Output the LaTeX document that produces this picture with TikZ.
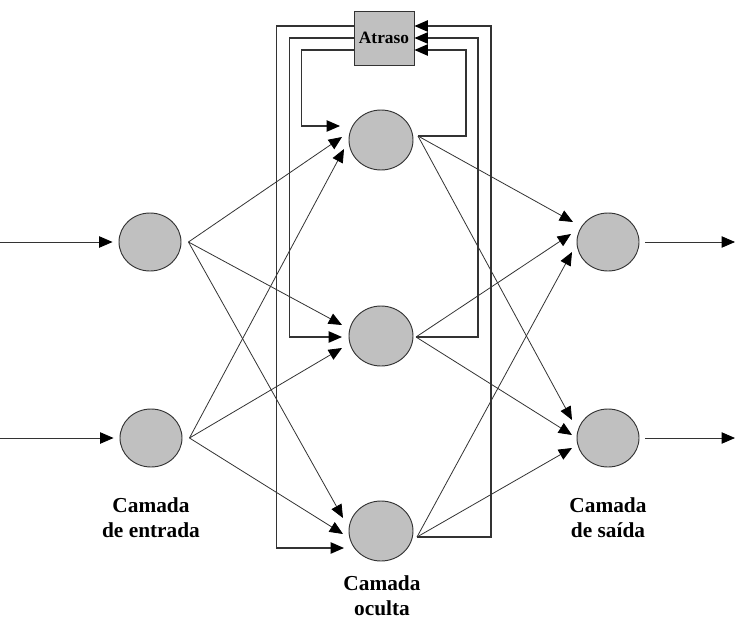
\documentclass[tikz,border=0pt]{standalone}
\usepackage{fontspec}
\setmainfont{Liberation Serif}
\usetikzlibrary{arrows.meta,shapes.geometric,calc}
\definecolor{neurongray}{HTML}{C0C0C0}
\definecolor{linegray}{HTML}{333333}

\begin{document}
\begin{tikzpicture}[x=0.75pt, y=-0.75pt,
  neuron/.style={ellipse, draw=linegray, fill=neurongray, line width=0.7pt, minimum width=46.5pt, minimum height=43.5pt, inner sep=0pt},
  hidden/.style={neuron, minimum width=48pt, minimum height=45pt},
  delaybox/.style={rectangle, draw=linegray, fill=neurongray, line width=0.7pt, minimum width=45pt, minimum height=40.5pt, inner sep=0pt, font=\fontsize{13}{15}\selectfont\bfseries},
  layerlabel/.style={align=center, font=\fontsize{16}{19}\selectfont\bfseries},
  link/.style={-{Triangle[length=10pt,width=8.5pt,black]}, draw=linegray, line width=0.6pt},
  feedback/.style={link, line width=0.9pt}
]
  \useasboundingbox (0,0) rectangle (735,621);
  % Neurons of the three layers
  \node[neuron] (in1)  at (150,242) {};
  \node[neuron] (in2)  at (151,438) {};
  \node[hidden] (hid1) at (381,140) {};
  \node[hidden] (hid2) at (381,336) {};
  \node[hidden] (hid3) at (381,531) {};
  \node[neuron] (out1) at (608,242) {};
  \node[neuron] (out2) at (608,438) {};
  % Delay unit (top)
  \node[delaybox] (delay) at (384,38) {Atraso};
  % Layer captions
  \node[layerlabel] (lblin)  at (151,518) {Camada\\de entrada};
  \node[layerlabel] (lblhid) at (382,596) {Camada\\oculta};
  \node[layerlabel] (lblout) at (608,518) {Camada\\de saída};
  % External inputs and outputs
  \coordinate (src1)  at (0,242);
  \coordinate (src2)  at (0,438);
  \coordinate (sink1) at (735,242);
  \coordinate (sink2) at (735,438);
  \draw[link] (src1) -- ($(in1.west)+(-6,0)$);
  \draw[link] (src2) -- ($(in2.west)+(-6,0)$);
  \draw[link] ($(out1.east)+(6,0)$) -- (sink1);
  \draw[link] ($(out2.east)+(6,0)$) -- (sink2);
  % Input -> hidden
  \draw[link] ($(in1.east)+(7,0)$) -- ($(hid1)+(-39,-3)$);
  \draw[link] ($(in1.east)+(7,0)$) -- ($(hid2)+(-39,-11)$);
  \draw[link] ($(in1.east)+(7,0)$) -- ($(hid3)+(-38,-13)$);
  \draw[link] ($(in2.east)+(7,0)$) -- ($(hid1)+(-37,9)$);
  \draw[link] ($(in2.east)+(7,0)$) -- ($(hid2)+(-39,12)$);
  \draw[link] ($(in2.east)+(7,0)$) -- ($(hid3)+(-38,3)$);
  % Hidden -> output
  \draw[link] ($(hid1)+(37,-4)$) -- ($(out1)+(-35,-20)$);
  \draw[link] ($(hid1)+(37,-4)$) -- ($(out2)+(-36,-18)$);
  \draw[link] ($(hid2)+(35,1)$)  -- ($(out1)+(-37,-8)$);
  \draw[link] ($(hid2)+(35,1)$)  -- ($(out2)+(-36,-3)$);
  \draw[link] ($(hid3)+(36,6)$)  -- ($(out1)+(-36,10)$);
  \draw[link] ($(hid3)+(36,6)$)  -- ($(out2)+(-36,10)$);
  % Feedback: hidden -> delay
  \draw[feedback] ($(hid1)+(37,-4)$) -- ++(48,0) |- ($(delay.east)+(0,12)$);
  \draw[feedback] ($(hid2)+(35,1)$)  -- ++(62,0) |- (delay.east);
  \draw[feedback] ($(hid3)+(36,6)$)  -- ++(74,0) |- ($(delay.east)+(0,-12)$);
  % Feedback: delay -> hidden
  \draw[feedback] ($(delay.west)+(0,12)$)  -- ++(-52,0) |- ($(hid1)+(-41,-14)$);
  \draw[feedback] (delay.west)             -- ++(-64,0) |- ($(hid2)+(-39,1)$);
  \draw[feedback] ($(delay.west)+(0,-12)$) -- ++(-77,0) |- ($(hid3)+(-37,17)$);
\end{tikzpicture}
\end{document}
